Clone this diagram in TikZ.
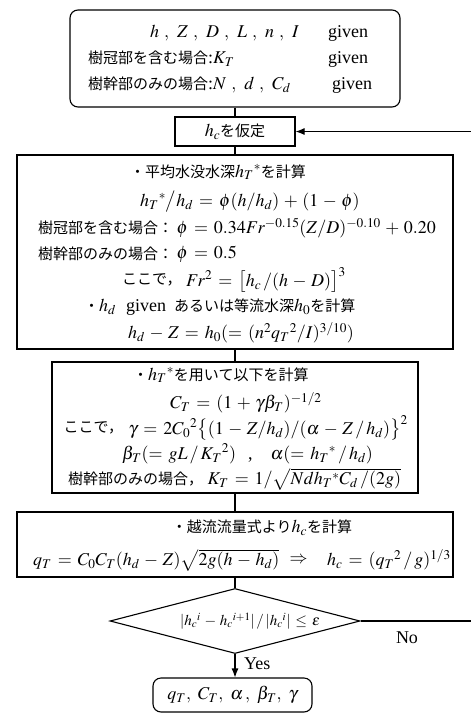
\documentclass[tikz,border=0pt]{standalone}
\usepackage{mathptmx}
\usepackage[no-math]{fontspec}
\setmainfont{Liberation Serif}
\newfontfamily\jp{Noto Sans CJK JP}
\usetikzlibrary{shapes.geometric,arrows.meta,calc}
\thickmuskip=6mu plus 2mu
\medmuskip=4.5mu plus 2mu
\newcommand{\mf}{\fontsize{18}{21}\selectfont}
\newcommand{\J}[1]{{\jp\fontsize{15}{18}\selectfont #1}}
\newcommand{\cm}{\hspace{5pt},\hspace{6pt}}
\tikzset{
  box/.style={draw, line width=1.1pt, inner sep=0pt},
  rbox/.style={box, rounded corners=8pt},
  txt/.style={inner sep=0pt, font=\mf},
  conn/.style={line width=1.1pt},
  arr/.style={conn, -{Latex[length=9pt,width=7pt]}}
}
\begin{document}
\begin{tikzpicture}[x=1pt,y=-1pt]
\fill[white] (0,0) rectangle (471,716);
\useasboundingbox (0,0) rectangle (471,716);

% boxes
\node[rbox, minimum width=330pt, minimum height=97pt] (b1) at (235,58.5) {};
\node[box, minimum width=120pt, minimum height=29pt] (b2) at (235,131.5) {};
\node[box, minimum width=436pt, minimum height=194pt] (b3) at (235,252) {};
\node[box, minimum width=366pt, minimum height=131pt] (b4) at (235,427.5) {};
\node[box, minimum width=436pt, minimum height=65pt] (b5) at (235,544.5) {};
\node[diamond, draw, line width=1.1pt, inner sep=0pt, minimum width=250pt, minimum height=65pt] (d) at (235,621) {};
\node[rbox, minimum width=159pt, minimum height=34pt] (fin) at (232.5,695) {};

% box 1 text
\node[txt, anchor=west] (t11) at (150,33) {$h\cm Z\cm D\cm L\cm n\cm I$};
\node[txt, anchor=west] (g1) at (328,33) {given};
\node[txt, anchor=west] (t12) at (88,59) {\J{樹冠部を含む場合}:$K_T$};
\node[txt, anchor=west] (g2) at (328,59) {given};
\node[txt, anchor=west] (t13) at (88,85) {\J{樹幹部のみの場合}:$N\cm d\cm C_d$};
\node[txt, anchor=west] (g3) at (332,85) {given};

% box 2
\node[txt] (t2) at (b2) {$h_c$\J{を仮定}};

% box 3 text
\node[txt, anchor=west] (t31) at (130,172) {\J{・平均水没水深}$h_T{}^{*}$\J{を計算}};
\node[txt, anchor=west] (t32) at (140,202) {$h_T{}^{*}\big/h_d = \phi(h/h_d) + (1-\phi)$};
\node[txt, anchor=east] (t33b) at (436,228) {$\phi = 0.34Fr^{-0.15}(Z/D)^{-0.10} + 0.20$};
\node[txt, anchor=east] (t33a) at ([xshift=-3pt]t33b.west) {\J{樹冠部を含む場合：}};
\node[txt, anchor=west] (t34b) at (t33b.west |- 0,254) {$\phi = 0.5$};
\node[txt, anchor=east] (t34a) at ([xshift=-3pt]t34b.west) {\J{樹幹部のみの場合：}};
\node[txt, anchor=west] (t35a) at (122,280) {\J{ここで，}};
\node[txt, anchor=west] (t35b) at (186,280) {$Fr^{2} = \bigl[h_c\,/(h-D)\bigr]^3$};
\node[txt, anchor=west] (t36a) at (84,307) {\J{・}$h_d$};
\node[txt, anchor=west] (t36b) at (126,307) {given};
\node[txt, anchor=west] (t36c) at (174,307) {\J{あるいは等流水深}$h_0$\J{を計算}};
\node[txt, anchor=west] (t37) at (128,333) {$h_d - Z = h_0(= (n^2 q_T{}^2/I)^{3/10})$};

% box 4 text
\node[txt, anchor=west] (t41) at (133,375) {\J{・}$h_T{}^{*}$\J{を用いて以下を計算}};
\node[txt, anchor=west] (t42) at (170,403) {$C_T = (1+\gamma\beta_T)^{-1/2}$};
\node[txt, anchor=east] (t43b) at (408,428) {$\gamma = 2C_0{}^2\bigl\{(1 - Z/h_d)/(\alpha - Z\,/\,h_d)\bigr\}^2$};
\node[txt, anchor=east] (t43a) at ([xshift=-5pt]t43b.west) {\J{ここで，}};
\node[txt, anchor=west] (t44) at (122,454) {$\beta_T(= gL\,/\,K_T{}^2)$\hspace{12pt},\hspace{18pt}$\alpha(= h_T{}^{*}\,/\,h_d)$};
\node[txt, anchor=west] (t45a) at (68,479) {\J{樹幹部のみの場合，}};
\node[txt, anchor=west] (t45b) at ([xshift=4pt]t45a.east) {$K_T = 1/\sqrt{Ndh_T{}^{*}C_d\,/(2g)}$};

% box 5 text
\node[txt] (t51) at (262,528) {\J{・越流流量式より}$h_c$\J{を計算}};
\node[txt, anchor=west] (t52a) at (33,560) {$q_T = C_0C_T(h_d - Z)\sqrt{2g(h-h_d)}$};
\node[txt, anchor=east] (t52c) at (451,560) {$h_c = (q_T{}^2\,/\,g)^{1/3}$};
\node[txt] (t52b) at ($(t52a.east)!0.4!(t52c.west)$) {$\Rightarrow$};

% diamond text
\node[inner sep=0pt, font=\fontsize{15}{17}\selectfont] (td) at (250,621) {$|h_c{}^i - h_c{}^{i+1}| \,/\, |h_c{}^i| \le \varepsilon$};

% final
\node[txt] (tf) at (fin) {$q_T,\hspace{5pt} C_T,\hspace{5pt} \alpha\,,\hspace{5pt} \beta_T,\hspace{5pt} \gamma$};

% labels
\node[txt] (no) at (407,638) {No};
\node[txt, anchor=west] (yes) at (244,664) {Yes};

% connectors
\coordinate (cR) at (474,621);
\draw[conn] (b1.south) -- (b2.north);
\draw[conn] (b2.south) -- (b3.north);
\draw[conn] (b3.south) -- (b4.north);
\draw[conn] (b4.south) -- (b5.north);
\draw[conn] (b5.south) -- (d.north);
\draw[arr] (d.south) -- (fin.north -| d.south);
\draw[arr] (d.east) -- (cR) |- (b2.east);
\end{tikzpicture}
\end{document}
